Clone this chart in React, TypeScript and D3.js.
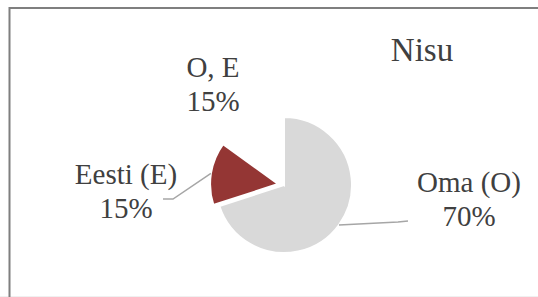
import { arc, pie } from "d3";

const WIDTH = 538;
const HEIGHT = 297;

const labels = ["Oma (O)", "Eesti (E)", "O, E"];
const values = [70, 15, 15];
const percentLabels = ["70%", "15%", "15%"];
const colors = ["#d9d9d9", "#943634", "#ffffff"];
const title = "Nisu";

// layout: pie geometry and label placement (Excel "best fit" positions)
const CX = 284;
const CY = 185;
const R = 68;
const explode = [0, 6, 0];
const labelPos = [
  { x: 469, y: 192, elbow: [398, 222], end: [408, 221] },
  { x: 126, y: 184, elbow: [173, 199], end: [163, 199] },
  { x: 213, y: 77, elbow: null, end: null },
];

const TEXT = "#404040";
const FONT = "Liberation Serif";

export default function App() {
  const arcs = pie<number>().sort(null).value((d) => d)(values);
  const arcGen = arc<any>().innerRadius(0).outerRadius(R);

  return (
    <svg
      width={WIDTH}
      height={HEIGHT}
      style={{ position: "absolute", left: 0, top: 0, display: "block", fontFamily: FONT }}
    >
      <rect x={0} y={0} width={WIDTH} height={HEIGHT} fill="#ffffff" />
      <line x1={0} x2={WIDTH} y1={HEIGHT - 0.5} y2={HEIGHT - 0.5} stroke="#f0f0f0" />
      <path
        d={`M9.5,${HEIGHT} V8 H${WIDTH}`}
        fill="none"
        stroke="#7f7f7f"
        strokeWidth={2}
      />
      {arcs.map((a, i) => {
        const mid = (a.startAngle + a.endAngle) / 2;
        const dx = Math.sin(mid) * explode[i];
        const dy = -Math.cos(mid) * explode[i];
        const cx = CX + dx;
        const cy = CY + dy;
        const lp = labelPos[i];
        const sx = cx + Math.sin(mid) * R;
        const sy = cy - Math.cos(mid) * R;
        return (
          <g key={labels[i]}>
            <path
              d={arcGen(a) ?? ""}
              transform={`translate(${cx},${cy})`}
              fill={colors[i]}
              stroke="#ffffff"
              strokeWidth={2}
            />
            {lp.elbow && lp.end ? (
              <polyline
                points={`${sx},${sy} ${lp.elbow[0]},${lp.elbow[1]} ${lp.end[0]},${lp.end[1]}`}
                fill="none"
                stroke="#a6a6a6"
                strokeWidth={1.5}
              />
            ) : null}
            <text
              x={lp.x}
              y={lp.y}
              textAnchor="middle"
              style={{ fontFamily: FONT, fontSize: 29 }}
              fill={TEXT}
            >
              <tspan x={lp.x}>{labels[i]}</tspan>
              <tspan x={lp.x} dy={34}>
                {percentLabels[i]}
              </tspan>
            </text>
          </g>
        );
      })}
      <text
        x={422}
        y={61}
        textAnchor="middle"
        style={{ fontFamily: FONT, fontSize: 33 }}
        fill={TEXT}
      >
        {title}
      </text>
    </svg>
  );
}
